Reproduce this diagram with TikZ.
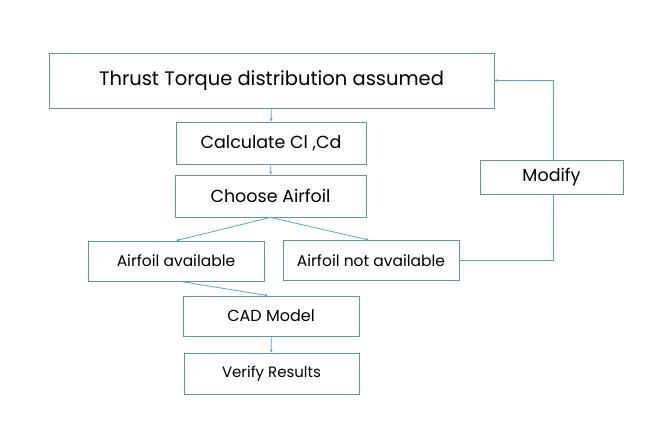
\documentclass[tikz,border=0pt]{standalone}
\usepackage{fontspec}
\setmainfont{Poppins}
\usetikzlibrary{arrows.meta,calc}
\definecolor{boxline}{RGB}{96,150,162}
\definecolor{flowline}{RGB}{80,170,196}

\tikzset{
  stepbox/.style={shape=rectangle,draw=boxline,line width=0.8pt,inner sep=0pt,text=black},
  flow/.style={draw=flowline,line width=0.8pt,-{Latex[length=3pt,width=3pt]}}
}

\begin{document}
\begin{tikzpicture}[x=1pt,y=-1pt]
  \useasboundingbox (0,0) rectangle (646,440);
  \path (271.5,80.5) node [stepbox,minimum width=445pt,minimum height=55pt,font=\fontsize{19.5}{22}\selectfont] (thrust) {Thrust Torque distribution assumed}
  (271,143) node [stepbox,minimum width=190pt,minimum height=42pt,font=\fontsize{17.5}{20}\selectfont] (calc) {Calculate Cl ,Cd}
  (270.5,196) node [stepbox,minimum width=191pt,minimum height=42pt,font=\fontsize{17.5}{20}\selectfont] (choose) {Choose Airfoil}
  (176,261) node [stepbox,minimum width=176pt,minimum height=40pt,font=\fontsize{15.5}{18}\selectfont] (avail) {Airfoil available}
  (371,260.5) node [stepbox,minimum width=176pt,minimum height=40pt,font=\fontsize{15.5}{18}\selectfont] (notavail) {Airfoil not available}
  (271,316) node [stepbox,minimum width=176pt,minimum height=40pt,font=\fontsize{16}{18}\selectfont] (cad) {CAD Model}
  (271.5,373.5) node [stepbox,minimum width=175pt,minimum height=41pt,font=\fontsize{15}{17}\selectfont] (verify) {Verify Results}
  (551.5,177) node [stepbox,minimum width=143pt,minimum height=34pt,font=\fontsize{17.5}{20}\selectfont] (modify) {Modify};

  \draw [flow] (thrust) -- (calc);
  \draw [flow] (calc) -- (choose);
  \draw [flow] (choose.south) -- (avail.north);
  \draw [flow] (choose.south) -- ([xshift=-2pt]notavail.north);
  \draw [flow] ([xshift=4pt]avail.south) -- ([xshift=-3pt]cad.north);
  \draw [flow] (cad) -- (verify);
  % loop back
  \draw [flowline,line width=0.8pt] (notavail.east) -| ([xshift=1.5pt]modify.south);
  \draw [flow] ([xshift=1.5pt]modify.north) |- (thrust.east);
\end{tikzpicture}
\end{document}
